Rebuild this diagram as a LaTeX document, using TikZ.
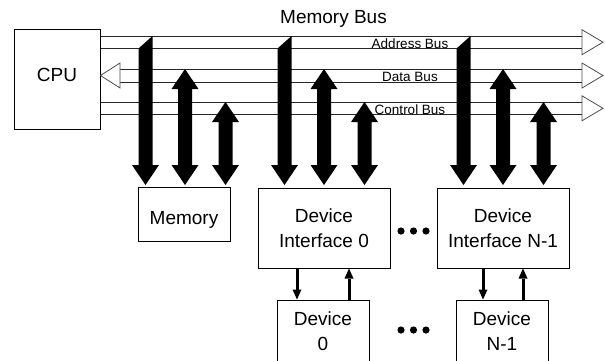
\documentclass[tikz,border=0pt]{standalone}
\usepackage{fontspec}
\setmainfont{Liberation Sans}
\usetikzlibrary{arrows.meta}

\begin{document}
\begin{tikzpicture}[x=1pt,y=1pt]
    \tikzstyle{every node}+=[inner sep=0pt]
    \tikzstyle{unitbox}=[draw=black, line width=1pt, align=center, font=\fontsize{19}{24.5}\selectfont]
    \tikzstyle{busline}=[draw=black!85, line width=0.9pt]
    \tikzstyle{bushead}=[draw=black!70, fill=white, line width=0.8pt, line join=miter]
    \tikzstyle{buslabel}=[font=\fontsize{13.5}{16}\selectfont, anchor=base]
    \tikzstyle{fatarrow}=[fill=black]
    \tikzstyle{linkarrow}=[line width=3pt, -{Triangle[length=10pt,width=9pt,line width=0pt]}]
    \useasboundingbox (0,0) rectangle (605,-360);
    % processor and memory side
    \node [unitbox, minimum width=86pt, minimum height=100pt, text depth=8pt] (cpu) at (57,-79) {CPU};
    \node [unitbox, minimum width=92pt, minimum height=54pt, text height=20pt, text depth=0pt] (mem) at (184,-214) {Memory};
    % device interfaces and devices
    \node [unitbox, minimum width=132pt, minimum height=80pt] (di0) at (324,-228) {Device\\Interface 0};
    \node [unitbox, minimum width=132pt, minimum height=80pt] (din) at (503,-228) {Device\\Interface N-1};
    \node [unitbox, minimum width=92pt, minimum height=62pt] (dev0) at (323,-331) {Device\\0};
    \node [unitbox, minimum width=92pt, minimum height=62pt] (devn) at (502,-331) {Device\\N-1};
    % bus ends
    \coordinate (addr) at (582,-42.2);
    \coordinate (data) at (582,-75.5);
    \coordinate (ctrl) at (582,-108.3);
    \coordinate (datal) at (120,-75.5);
    % bus pipes
    \foreach \bus in {addr, ctrl}
        \draw [busline] ([yshift=6.2pt]cpu.east |- \bus) -- ([yshift=6.2pt]\bus)
                        ([yshift=-6.2pt]cpu.east |- \bus) -- ([yshift=-6.2pt]\bus);
    \draw [busline] ([yshift=6.5pt]datal) -- ([yshift=6.5pt]data)
                    ([yshift=-6.5pt]datal) -- ([yshift=-6.5pt]data);
    \foreach \bus in {addr, data, ctrl}
        \draw [bushead] ([yshift=12.5pt]\bus) -- ([xshift=21pt]\bus) -- ([yshift=-12.5pt]\bus) -- cycle;
    \draw [bushead] (cpu.east |- data) -- ([yshift=12.5pt]datal) -- ([yshift=-12.5pt]datal) -- cycle;
    % taps from the buses
    \foreach \c in {185, 324, 503} {
        \fill [fatarrow] (\c-46.5,-48.5) -- (\c-32.5,-36) -- (\c-32.5,-165) -- (\c-26,-165)
            -- (\c-39.5,-185) -- (\c-53,-165) -- (\c-46.5,-165) -- cycle;
        \fill [fatarrow] (\c,-69) -- (\c+13.5,-89) -- (\c+7,-89) -- (\c+7,-165) -- (\c+13.5,-165)
            -- (\c,-185) -- (\c-13.5,-165) -- (\c-7,-165) -- (\c-7,-89) -- (\c-13.5,-89) -- cycle;
        \fill [fatarrow] (\c+40.5,-102) -- (\c+54,-122) -- (\c+47.5,-122) -- (\c+47.5,-165) -- (\c+54,-165)
            -- (\c+40.5,-185) -- (\c+27,-165) -- (\c+33.5,-165) -- (\c+33.5,-122) -- (\c+27,-122) -- cycle;
    }
    % labels
    \node [font=\fontsize{19}{22}\selectfont, anchor=base] (busname) at (333.5,-23) {Memory Bus};
    \node [buslabel] (addrlabel) at (410,-48) {Address Bus};
    \node [buslabel] (datalabel) at (410,-81) {Data Bus};
    \node [buslabel] (ctrllabel) at (410,-114.5) {Control Bus};
    % interface to device links
    \draw [linkarrow] ([xshift=-27pt]di0.south) -- ([xshift=-26pt]dev0.north);
    \draw [linkarrow] ([xshift=26pt]dev0.north) -- ([xshift=25pt]di0.south);
    \draw [linkarrow] ([xshift=-20pt]din.south) -- ([xshift=-19pt]devn.north);
    \draw [linkarrow] ([xshift=21pt]devn.north) -- ([xshift=20pt]din.south);
    % more devices
    \foreach \dx in {401, 413.5, 426} {
        \fill (\dx,-231) circle (3.6);
        \fill (\dx,-330) circle (3.6);
    }
\end{tikzpicture}
\end{document}
